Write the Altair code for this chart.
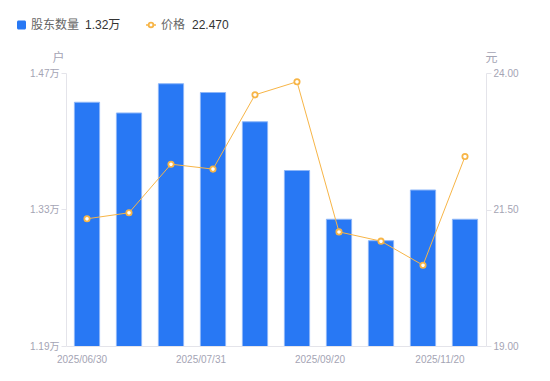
import altair as alt
import pandas as pd

# ---- data ----
dates = ["2025/06/30", "2025/07/10", "2025/07/20", "2025/07/31", "2025/08/15",
         "2025/08/31", "2025/09/20", "2025/09/30", "2025/10/31", "2025/11/20"]
holders = [1.440, 1.429, 1.459, 1.450, 1.420, 1.370, 1.320, 1.298, 1.350, 1.320]  # 万户
prices = [21.33, 21.44, 22.33, 22.24, 23.60, 23.84, 21.09, 20.92, 20.48, 22.47]   # 元
shown_dates = ["2025/06/30", "2025/07/31", "2025/09/20", "2025/11/20"]
holder_ticks = [1.19, 1.33, 1.47]
price_ticks = [19.0, 21.5, 24.0]
series_names = ["股东数量", "价格"]

df = pd.DataFrame({"date": dates, "holders": holders, "price": prices})

FONT = "Arial, 'Noto Sans CJK SC', sans-serif"
LABEL = "#a4a4b4"
AXIS = "#e4e4ea"
BLUE = "#2878f4"
ORANGE = "#f7b547"

shown_js = "[" + ",".join("'%s'" % d for d in shown_dates) + "]"

x_enc = alt.X(
    "date:O", sort=dates,
    scale=alt.Scale(paddingInner=0.4, paddingOuter=0.2),
    axis=alt.Axis(
        title=None, labelAngle=0, ticks=False, domainColor=AXIS,
        labelColor=LABEL, labelFontSize=10, labelPadding=8, labelOverlap=False,
        labelExpr="indexof(%s, datum.value) >= 0 ? datum.value : ''" % shown_js,
        labelOffset={
            "condition": [
                {"test": "datum.value == '2025/07/31'", "value": -12},
                {"test": "datum.value == '2025/09/20'", "value": -19},
                {"test": "datum.value == '2025/11/20'", "value": -25},
            ],
            "value": -5,
        },
    ),
)

y_left = alt.Y(
    "holders:Q",
    scale=alt.Scale(domain=[1.19, 1.47], zero=False, nice=False),
    axis=alt.Axis(
        values=holder_ticks, labelExpr="format(datum.value, '.2f') + '万'",
        title="户", titleAngle=0, titleX=-8, titleY=-16, titleAlign="center",
        titleBaseline="middle", titleColor=LABEL, titleFontWeight="normal",
        titleFontSize=12, grid=False, tickColor=AXIS, tickSize=5,
        domainColor=AXIS, labelColor=LABEL, labelFontSize=10, labelPadding=2,
    ),
)

y_right = alt.Y(
    "price:Q",
    scale=alt.Scale(domain=[19, 24], zero=False, nice=False),
    axis=alt.Axis(
        orient="right", values=price_ticks, format=".2f",
        title="元", titleAngle=0, titleX=5, titleY=-16, titleAlign="center",
        titleBaseline="middle", titleColor=LABEL, titleFontWeight="normal",
        titleFontSize=12, grid=False, tickColor=AXIS, tickSize=5,
        domainColor=AXIS, labelColor=LABEL, labelFontSize=10, labelPadding=2,
    ),
)

bars = alt.Chart(df).mark_bar(
    color=BLUE, stroke="#8db6f8", strokeWidth=1, clip=True
).encode(x=x_enc, y=y_left)

line = alt.Chart(df).mark_line(color=ORANGE, strokeWidth=1).encode(x=x_enc, y=y_right)
pts = alt.Chart(df).mark_point(
    filled=True, fill="white", stroke=ORANGE, strokeWidth=1.8, size=28, opacity=1
).encode(x=x_enc, y=y_right)
price_layer = alt.layer(line, pts)

# ---- legend (top-left) ----
one = pd.DataFrame({"k": [0]})
LY = -48
leg_sq = alt.Chart(one).mark_rect(color=BLUE, cornerRadius=1.5).encode(
    x=alt.value(-49), x2=alt.value(-40), y=alt.value(LY - 4.5), y2=alt.value(LY + 4.5))
leg_t1 = alt.Chart(one).mark_text(align="left", baseline="middle", fontSize=12,
                                  color="#666666", font=FONT).encode(
    x=alt.value(-35), y=alt.value(LY), text=alt.value(series_names[0]))
leg_v1 = alt.Chart(one).mark_text(align="left", baseline="middle", fontSize=12,
                                  color="#333333", font=FONT).encode(
    x=alt.value(19), y=alt.value(LY), text=alt.value(f"{holders[-1]:.2f}万"))
leg_ln = alt.Chart(one).mark_rule(color=ORANGE, strokeWidth=1.5).encode(
    x=alt.value(80), x2=alt.value(90), y=alt.value(LY))
leg_pt = alt.Chart(one).mark_point(filled=True, fill="white", stroke=ORANGE,
                                   strokeWidth=1.8, size=22, opacity=1).encode(
    x=alt.value(85), y=alt.value(LY))
leg_t2 = alt.Chart(one).mark_text(align="left", baseline="middle", fontSize=12,
                                  color="#666666", font=FONT).encode(
    x=alt.value(95), y=alt.value(LY), text=alt.value(series_names[1]))
leg_v2 = alt.Chart(one).mark_text(align="left", baseline="middle", fontSize=12,
                                  color="#333333", font=FONT).encode(
    x=alt.value(126), y=alt.value(LY), text=alt.value(f"{prices[-1]:.3f}"))

legend = alt.layer(leg_sq, leg_t1, leg_v1, leg_ln, leg_pt, leg_t2, leg_v2)

chart = alt.layer(bars, price_layer, legend).resolve_scale(y="independent").properties(
    width=420, height=273,
    autosize=alt.AutoSizeParams(type="none"),
    padding={"left": 58, "top": 65, "right": 56, "bottom": 27},
).configure_view(stroke=None).configure_axis(
    labelFont=FONT, titleFont=FONT
)

chart.save("out.html", embed_options={"renderer": "svg", "actions": False})
